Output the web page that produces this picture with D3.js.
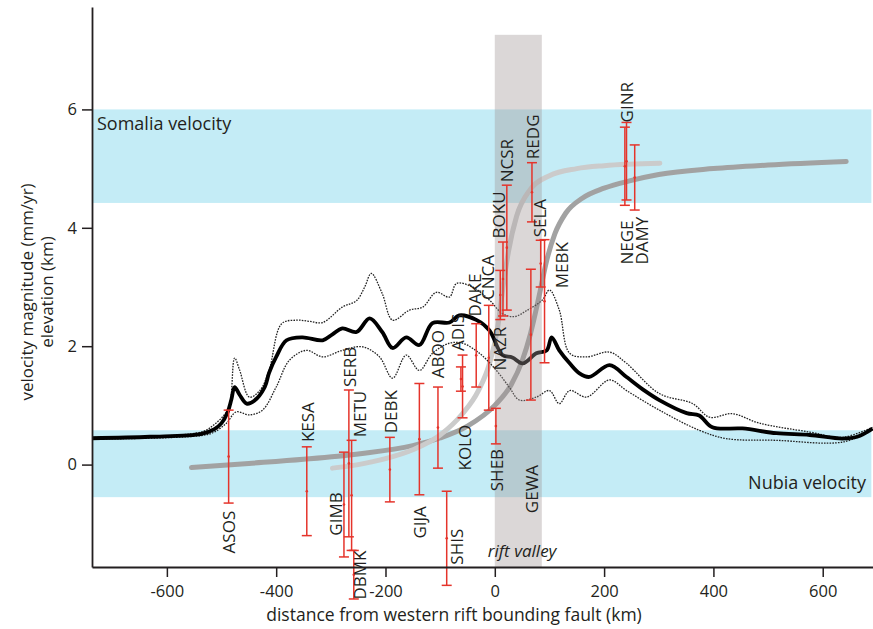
<!DOCTYPE html>
<html><head><meta charset="utf-8">
<script src="https://cdn.jsdelivr.net/npm/d3@7"></script>
<style>body{margin:0;background:#fff} text{font-family:"Open Sans",sans-serif;fill:#231f20}</style>
</head><body><svg id="c" width="873" height="629"></svg>
<script>
// ---------- data ----------
const xTicks = [-600, -400, -200, 0, 200, 400, 600];
const yTicks = [0, 2, 4, 6];
const somaliaBand = [4.42, 6.0];
const nubiaBand = [-0.55, 0.58];
const riftZone = [0, 86];
const riftTop = 7.26;

// elevation profile (km) : mean, upper and lower envelopes
const topoMidX = [-737,-631,-537,-513,-500,-489,-482,-476,-467,-454,-440,-421,-413,-400,-381,-352,-315,-297,-279,-253,-229,-206,-187,-162,-138,-114,-83,-65,-33,-10,14,32,51,76,95,104,118,137,155,173,210,241,274,301,351,374,398,453,515,576,636,663,691];
const topoMid  = [0.445,0.47,0.52,0.6,0.7,0.88,1.1,1.31,1.18,1.03,1.08,1.31,1.55,1.82,2.10,2.15,2.10,2.2,2.3,2.24,2.47,2.24,1.97,2.15,2.02,2.39,2.40,2.52,2.44,2.27,1.85,1.81,1.71,1.88,1.93,2.15,1.93,1.71,1.54,1.48,1.68,1.48,1.25,1.09,0.87,0.83,0.63,0.61,0.53,0.5,0.44,0.47,0.61];
const topoUpX  = [-737,-537,-513,-494,-485,-476,-467,-449,-430,-413,-390,-363,-339,-315,-279,-253,-238,-226,-206,-187,-156,-132,-107,-83,-70,-41,-10,14,36,58,87,100,118,137,168,210,241,301,362,393,435,484,576,636,691];
const topoUp   = [0.46,0.55,0.68,0.85,1.0,1.8,1.6,1.14,1.25,1.59,2.38,2.44,2.42,2.4,2.66,2.77,3.0,3.23,2.89,2.44,2.61,2.66,2.91,2.83,3.06,3.0,2.78,2.55,2.5,2.6,2.78,2.95,2.61,1.88,1.82,1.9,1.71,1.2,1.03,0.8,0.86,0.7,0.55,0.46,0.63];
const topoLowX = [-737,-537,-513,-491,-473,-449,-425,-400,-376,-345,-315,-279,-242,-211,-187,-162,-138,-114,-83,-59,-28,3,27,45,76,100,118,137,168,210,241,301,374,423,515,636,691];
const topoLow  = [0.43,0.49,0.55,0.7,0.89,0.84,0.92,1.31,1.76,1.93,1.82,1.93,1.99,1.82,1.46,1.85,1.59,1.88,2.05,2.05,1.88,1.59,1.3,1.09,1.14,1.25,1.03,1.25,1.14,1.43,1.25,0.92,0.58,0.44,0.41,0.38,0.58];

// model velocity curves (mm/yr)
const modelAX = [-555,-450,-350,-250,-150,-100,-50,0,30,50,65,80,95,110,130,160,200,250,300,400,500,643];
const modelA  = [-0.05,0.02,0.09,0.18,0.32,0.45,0.65,1.0,1.35,1.75,2.2,2.8,3.45,3.9,4.25,4.5,4.67,4.8,4.9,5.0,5.06,5.12];
const modelBX = [-297,-250,-200,-150,-100,-60,-30,-10,5,15,25,40,65,100,150,200,302];
const modelB  = [-0.06,0.0,0.1,0.25,0.5,0.85,1.25,1.7,2.3,3.0,3.6,4.2,4.65,4.88,5.0,5.05,5.09];

// GPS stations: distance (km), velocity (mm/yr), uncertainty (mm/yr)
const stations = ["ASOS","KESA","GIMB","SERB","METU","DBMK","DEBK","GIJA","ABOO","SHIS","KOLO","ADIS","DAKE","CNCA","SHEB","NAZR","BOKU","NCSR","GEWA","REDG","SELA","MEBK","NEGE","GINR","DAMY"];
const stationX   = [-487,-344,-276,-267,-262,-258,-192,-138,-104,-88,-59,-62,-34,-11,2,10,15,22,66,68,84,91,238,241,256];
const stationVel = [0.135,-0.45,-0.675,0.02,-0.52,-1.86,-0.085,0.43,0.625,-1.245,1.32,1.445,1.845,1.805,0.65,2.865,3.135,3.665,2.195,4.6,3.395,2.76,5.04,5.125,4.85];
const stationErr = [0.785,0.75,0.885,1.24,0.93,0.41,0.545,0.94,0.685,0.795,0.53,0.205,0.535,0.885,0.3,0.415,0.625,1.055,1.105,0.5,0.395,1.04,0.66,0.655,0.55];
// label anchors (km, value where the rotated text starts)
const labelX = [-487,-342,-291,-266,-247,-247,-190,-138,-105,-70,-55,-68,-37,-12,3,10,8,23,67,69,82,122,242,242,269];
const labelY = [-1.5,0.38,-1.2,1.31,0.46,-2.28,0.53,-1.25,1.46,-1.69,-0.1,1.92,2.5,2.78,-0.45,1.59,3.82,4.77,-0.82,5.16,3.84,2.98,3.38,5.78,3.38];

// ---------- chart ----------
const svg = d3.select("#c");
const x = d3.scaleLinear().domain([-737, 692]).range([92, 873]);
const y = d3.scaleLinear().domain([-1.73, 7.73]).range([567, 7]);

// velocity bands
svg.append("rect").attr("x", x(-737)).attr("width", x(689) - x(-737))
  .attr("y", y(somaliaBand[1])).attr("height", y(somaliaBand[0]) - y(somaliaBand[1])).attr("fill", "#c4ecf6");
svg.append("rect").attr("x", x(-737)).attr("width", x(689) - x(-737))
  .attr("y", y(nubiaBand[1])).attr("height", y(nubiaBand[0]) - y(nubiaBand[1])).attr("fill", "#c4ecf6");

// model curves
const lineGen = d3.line().curve(d3.curveMonotoneX);
svg.append("path").attr("d", lineGen(modelAX.map((d, i) => [x(d), y(modelA[i])])))
  .attr("fill", "none").attr("stroke", "#a2a2a2").attr("stroke-width", 5).attr("stroke-linecap", "round");
svg.append("path").attr("d", lineGen(modelBX.map((d, i) => [x(d), y(modelB[i])])))
  .attr("fill", "none").attr("stroke", "#cbcbcb").attr("stroke-width", 5).attr("stroke-linecap", "round");

// topography
const topoLine = d3.line().curve(d3.curveCatmullRom.alpha(0.5));
svg.append("path").attr("d", topoLine(topoUpX.map((d, i) => [x(d), y(topoUp[i])])))
  .attr("fill", "none").attr("stroke", "#222").attr("stroke-width", 1.3).attr("stroke-dasharray", "1.6,1.2");
svg.append("path").attr("d", topoLine(topoLowX.map((d, i) => [x(d), y(topoLow[i])])))
  .attr("fill", "none").attr("stroke", "#222").attr("stroke-width", 1.3).attr("stroke-dasharray", "1.6,1.2");
svg.append("path").attr("d", topoLine(topoMidX.map((d, i) => [x(d), y(topoMid[i])])))
  .attr("fill", "none").attr("stroke", "#000").attr("stroke-width", 3.8).attr("stroke-linejoin", "round");

// rift valley
svg.append("rect").attr("x", x(riftZone[0])).attr("width", x(riftZone[1]) - x(riftZone[0]))
  .attr("y", y(riftTop)).attr("height", y(-1.73) - y(riftTop))
  .attr("fill", "#a09595").attr("opacity", 0.38);
svg.append("text").attr("x", x(riftZone[0]) - 7).attr("y", 557)
  .attr("font-size", 17).attr("font-style", "italic").text("rift valley");

// band labels
svg.append("text").attr("x", 97).attr("y", 130).attr("font-size", 18).text("Somalia velocity");
svg.append("text").attr("x", 866).attr("y", 489).attr("font-size", 18).attr("text-anchor", "end").text("Nubia velocity");

// error bars
const red = "#e5342b";
const eb = svg.append("g");
stations.forEach((s, i) => {
  const cx = x(stationX[i]);
  const t = y(stationVel[i] + stationErr[i]), b = y(stationVel[i] - stationErr[i]);
  eb.append("line").attr("x1", cx).attr("x2", cx).attr("y1", t).attr("y2", b).attr("stroke", red).attr("stroke-width", 1.5);
  eb.append("line").attr("x1", cx - 5).attr("x2", cx + 5).attr("y1", t).attr("y2", t).attr("stroke", red).attr("stroke-width", 1.5);
  eb.append("line").attr("x1", cx - 5).attr("x2", cx + 5).attr("y1", b).attr("y2", b).attr("stroke", red).attr("stroke-width", 1.5);
  eb.append("circle").attr("cx", cx).attr("cy", y(stationVel[i])).attr("r", 1.3).attr("fill", red);
});
// station labels
stations.forEach((s, i) => {
  const lx = x(labelX[i]), ly = y(labelY[i]);
  svg.append("text").attr("transform", `translate(${lx},${ly}) rotate(-90)`)
    .attr("dy", "0.36em").attr("font-size", 17).attr("text-anchor", "start").text(s);
});

// axes
const xAxis = d3.axisBottom(x).tickValues(xTicks).tickSize(10).tickSizeOuter(0).tickPadding(8).tickFormat(d3.format("d"));
const gx = svg.append("g").attr("transform", `translate(0,${y(-1.73)})`).call(xAxis);
const yAxis = d3.axisLeft(y).tickValues(yTicks).tickSize(10).tickSizeOuter(0).tickPadding(5);
const gy = svg.append("g").attr("transform", `translate(${x(-737)},0)`).call(yAxis);
[gx, gy].forEach(g => {
  g.selectAll(".domain").attr("stroke", "#231f20").attr("stroke-width", 1.8);
  g.selectAll(".tick line").attr("stroke", "#231f20").attr("stroke-width", 1.5);
  g.selectAll(".tick text").attr("font-size", 16.5).attr("fill", "#231f20").attr("font-family", "Open Sans, sans-serif");
});
gx.selectAll(".tick text").text(d => d < 0 ? "-" + Math.abs(d) : d);

// axis titles
svg.append("text").attr("x", 454).attr("y", 621).attr("text-anchor", "middle").attr("font-size", 17.5)
  .text("distance from western rift bounding fault (km)");
const yt = svg.append("text").attr("transform", "translate(0,292) rotate(-90)").attr("text-anchor", "middle").attr("font-size", 17);
yt.append("tspan").attr("x", 0).attr("y", 33).text("velocity magnitude  (mm/yr)");
yt.append("tspan").attr("x", 0).attr("y", 53).text("elevation (km)");
</script></body></html>
